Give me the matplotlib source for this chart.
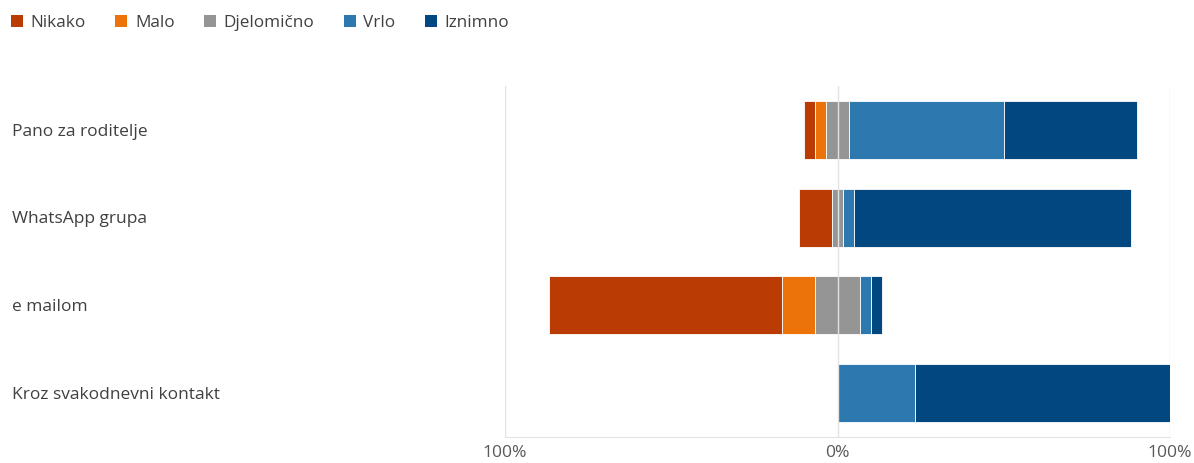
import matplotlib
matplotlib.use("Agg")
import matplotlib.pyplot as plt
import matplotlib.transforms as mtransforms
from matplotlib.patches import Patch
import numpy as np

plt.rcParams['font.family'] = ['Open Sans', 'DejaVu Sans']

categories = ["Pano za roditelje", "WhatsApp grupa", "e mailom", "Kroz svakodnevni kontakt"]
levels = ["Nikako", "Malo", "Djelomično", "Vrlo", "Iznimno"]
colors = ["#BA3B03", "#EC720A", "#959595", "#2D78AF", "#02477F"]

# percentages per category
nikako = [3.3, 10.0, 70.0, 0.0]
malo = [3.3, 0.0, 10.0, 0.0]
djelomicno = [6.7, 3.3, 13.3, 0.0]
vrlo = [46.7, 3.3, 3.3, 23.3]
iznimno = [40.0, 83.3, 3.3, 76.7]

tick_vals = [-100, 0, 100]
tick_labels = ["100%", "0%", "100%"]

W, H = 1194, 463
FS = 12.55
fig = plt.figure(figsize=(W / 100, H / 100), dpi=100)
ax = fig.add_axes([505 / W, 1 - 437 / H, (1170 - 505) / W, (437 - 86) / H])

y = np.arange(len(categories))
# diverging: negatives plus half of the neutral go left of zero
neg = np.array(nikako) + np.array(malo) + np.array(djelomicno) / 2
left = -neg
for vals, col in zip([nikako, malo, djelomicno, vrlo, iznimno], colors):
    vals = np.array(vals)
    ax.barh(y, vals, left=left, height=0.66, color=col, edgecolor="white",
            linewidth=0.6, zorder=2)
    left = left + vals

ax.set_xlim(-100, 100)
ax.set_ylim(len(categories) - 0.5, -0.5)
ax.set_xticks(tick_vals)
ax.set_xticklabels(tick_labels)
ax.tick_params(axis="x", length=0, colors="#595959", labelsize=12.6, pad=6)
ax.set_yticks([])
for s in ["top", "left", "right"]:
    ax.spines[s].set_visible(False)
ax.spines["bottom"].set_color("#E2E2E2")
for v in tick_vals:
    ax.axvline(v, color="#E2E2E2", lw=1, zorder=3 if v == 0 else 1)

trans = mtransforms.blended_transform_factory(fig.transFigure, ax.transData)
for yi, cat in zip(y, categories):
    ax.text(12 / W, yi + 0.02, cat, transform=trans, ha="left", va="center",
            fontsize=FS, color="#404040")

handles = [Patch(facecolor=c, edgecolor="none") for c in colors]
fig.legend(handles, levels, loc="upper left", bbox_to_anchor=(11 / W, 1 - 15 / H), ncol=5,
           frameon=False, fontsize=12.3, handlelength=0.69, handleheight=0.69,
           handletextpad=0.46, columnspacing=1.72, borderpad=0, borderaxespad=0,
           labelcolor="#404040")

fig.savefig("out.png", dpi=100)
